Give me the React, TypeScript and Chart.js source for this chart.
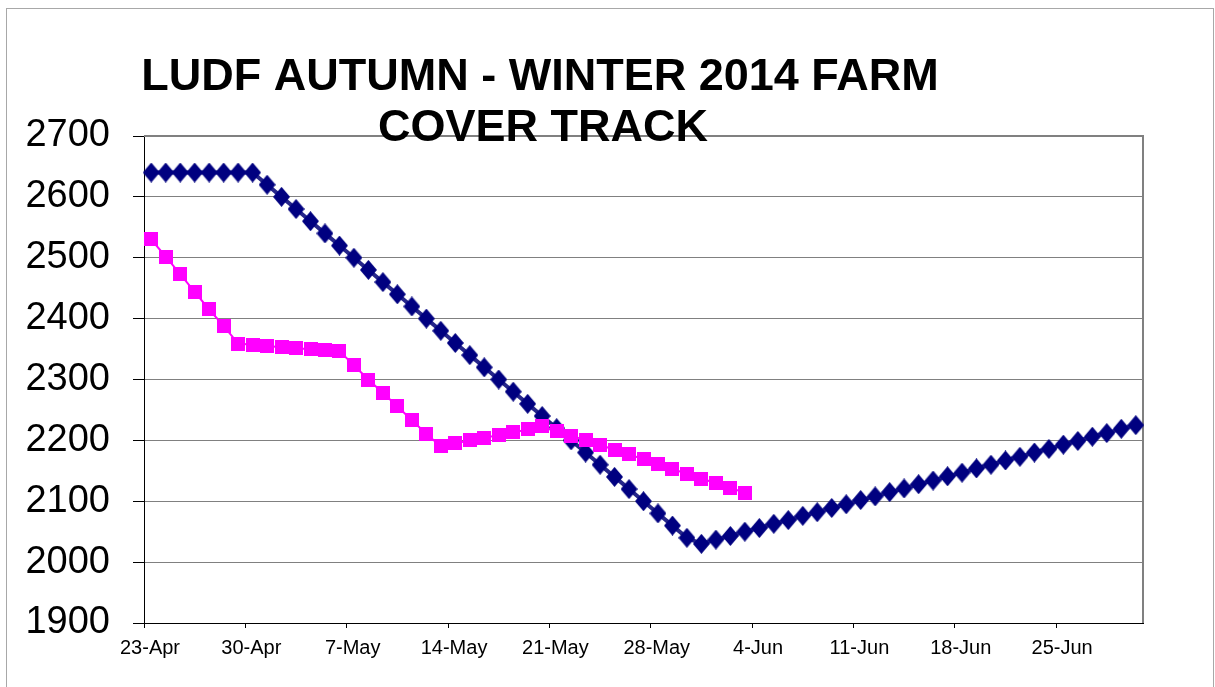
import React, { useEffect, useRef } from "react";
import { Chart, registerables } from "chart.js";

Chart.register(...registerables);

const TITLE_LINES = ["LUDF AUTUMN - WINTER 2014 FARM", "COVER TRACK"];
const WEEK_LABELS = ["23-Apr", "30-Apr", "7-May", "14-May", "21-May", "28-May", "4-Jun", "11-Jun", "18-Jun", "25-Jun"];
const Y_MIN = 1900;
const Y_MAX = 2700;
const Y_STEP = 100;
const AXIS_DAYS = 69;

// Target (planned) farm cover, one value per day from 23-Apr
const TARGET_COVER = [
  2640, 2640, 2640, 2640, 2640, 2640, 2640, 2640,
  2620, 2600, 2580, 2560, 2540, 2520, 2500, 2480, 2460, 2440, 2420, 2400,
  2380, 2360, 2340, 2320, 2300, 2280, 2260, 2240, 2220, 2200, 2180, 2160,
  2140, 2120, 2100, 2080, 2060, 2040, 2030,
  2037, 2043, 2050, 2056, 2063, 2069, 2076, 2082, 2089, 2095,
  2102, 2108, 2115, 2121, 2128, 2134, 2141, 2147, 2154, 2160,
  2167, 2173, 2180, 2186, 2193, 2199, 2206, 2212, 2219, 2225,
];

// Actual farm cover, one value per day from 23-Apr
const ACTUAL_COVER = [
  2530, 2502, 2473, 2444, 2415, 2388, 2359, 2357, 2355, 2353,
  2351, 2350, 2349, 2347, 2323, 2300, 2278, 2256, 2233, 2211,
  2190, 2195, 2200, 2204, 2209, 2213, 2218, 2223, 2215, 2208,
  2200, 2192, 2185, 2177, 2169, 2161, 2153, 2145, 2137, 2130,
  2122, 2114,
];

const FONT = "'Liberation Sans', Arial, sans-serif";

function makeDiamond(w: number, h: number, color: string): HTMLCanvasElement {
  const c = document.createElement("canvas");
  c.width = w;
  c.height = h;
  const g = c.getContext("2d")!;
  g.fillStyle = color;
  g.beginPath();
  g.moveTo(w / 2, 0);
  g.lineTo(w, h / 2);
  g.lineTo(w / 2, h);
  g.lineTo(0, h / 2);
  g.closePath();
  g.fill();
  return c;
}

function makeSquare(s: number, color: string): HTMLCanvasElement {
  const c = document.createElement("canvas");
  c.width = s;
  c.height = s;
  const g = c.getContext("2d")!;
  g.fillStyle = color;
  g.fillRect(0, 0, s, s);
  return c;
}

const decorPlugin = {
  id: "decor",
  beforeDatasetsDraw(chart: any) {
    const { ctx, chartArea } = chart;
    ctx.save();
    ctx.strokeStyle = "#808080";
    ctx.lineWidth = 2;
    ctx.beginPath();
    ctx.moveTo(chartArea.left, chartArea.top);
    ctx.lineTo(chartArea.right, chartArea.top);
    ctx.lineTo(chartArea.right, chartArea.bottom);
    ctx.stroke();
    ctx.restore();
  },
  afterDraw(chart: any) {
    const { ctx } = chart;
    ctx.save();
    ctx.strokeStyle = "#a8a8a8";
    ctx.lineWidth = 1;
    ctx.strokeRect(6.5, 8.5, 1207, 720);
    ctx.fillStyle = "#000";
    ctx.font = `bold 45px ${FONT}`;
    ctx.textAlign = "center";
    ctx.textBaseline = "alphabetic";
    ctx.fillText(TITLE_LINES[0], 540, 90);
    ctx.fillText(TITLE_LINES[1], 543, 141);
    ctx.restore();
  },
};

export default function App() {
  const canvasRef = useRef<HTMLCanvasElement | null>(null);

  useEffect(() => {
    const canvas = canvasRef.current;
    if (!canvas) return;
    const diamond = makeDiamond(17, 20, "#000080");
    const square = makeSquare(14, "#FF00FF");
    const chart = new Chart(canvas, {
      type: "line",
      data: {
        datasets: [
          {
            label: "Actual",
            data: ACTUAL_COVER.map((v, i) => ({ x: i + 0.5, y: v })),
            borderColor: "#FF00FF",
            backgroundColor: "#FF00FF",
            borderWidth: 2,
            pointStyle: square as any,
            pointRadius: 7,
            tension: 0,
            clip: false,
          },
          {
            label: "Target",
            data: TARGET_COVER.map((v, i) => ({ x: i + 0.5, y: v })),
            borderColor: "#26268a",
            backgroundColor: "#000080",
            borderWidth: 4,
            pointStyle: diamond as any,
            pointRadius: 9,
            tension: 0,
            clip: false,
          },
        ],
      },
      options: {
        animation: false,
        responsive: false,
        devicePixelRatio: 1,
        layout: { padding: { left: 0, right: 72, top: 136, bottom: 14 } },
        plugins: {
          legend: { display: false },
          title: { display: false },
          tooltip: { enabled: false },
        },
        scales: {
          x: {
            type: "linear",
            min: 0,
            max: AXIS_DAYS,
            afterFit(scale: any) {
              scale.height = 50;
            },
            afterBuildTicks(scale: any) {
              scale.ticks = WEEK_LABELS.map((_, i) => ({ value: i * 7 }));
            },
            ticks: {
              autoSkip: false,
              maxRotation: 0,
              padding: 8,
              labelOffset: 6,
              color: "#000",
              font: { family: FONT, size: 20 },
              callback: (v: any) => WEEK_LABELS[Math.round(Number(v) / 7)] ?? "",
            },
            grid: {
              drawOnChartArea: false,
              drawTicks: true,
              tickLength: 5,
              tickColor: "#000",
            },
            border: { display: true, color: "#000", width: 1 },
          },
          y: {
            type: "linear",
            min: Y_MIN,
            max: Y_MAX,
            afterFit(scale: any) {
              scale.width = 144;
            },
            ticks: {
              stepSize: Y_STEP,
              padding: 23,
              color: "#000",
              font: { family: FONT, size: 38 },
              callback: (v: any) => String(v),
            },
            grid: {
              color: "#808080",
              lineWidth: 1,
              drawTicks: true,
              tickLength: 11,
              tickColor: "#000",
            },
            border: { display: true, color: "#000", width: 1 },
          },
        },
      },
      plugins: [decorPlugin],
    });
    return () => chart.destroy();
  }, []);

  return (
    <div style={{ position: "fixed", left: 0, top: 0, width: 1215, height: 687, background: "#fff" }}>
      <canvas ref={canvasRef} width={1215} height={687} style={{ display: "block" }} />
    </div>
  );
}
